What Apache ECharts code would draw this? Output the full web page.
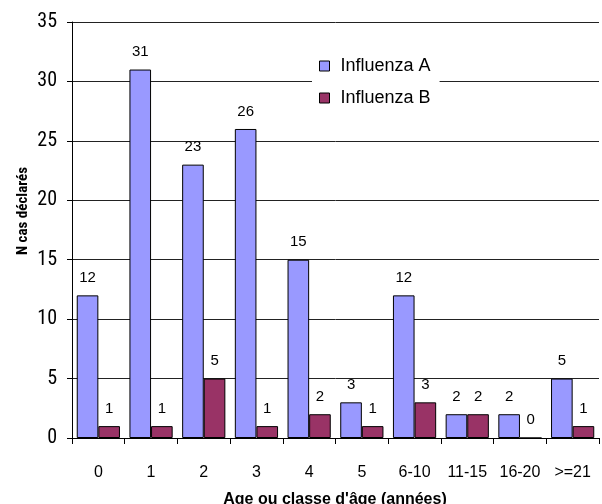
<!DOCTYPE html>
<html><head><meta charset="utf-8">
<script src="https://cdn.jsdelivr.net/npm/echarts@6/dist/echarts.min.js"></script>
<style>html,body{margin:0;padding:0;background:#fff}#c{width:602px;height:504px}</style>
</head><body><div id="c"></div>
<script>
const categories = ['0','1','2','3','4','5','6-10','11-15','16-20','>=21'];
const influenzaA = [12,31,23,26,15,3,12,2,2,5];
const influenzaB = [1,1,5,1,2,1,3,2,0,1];
const yTicks = {min:0, max:35, interval:5};
const xTitle = "Age ou classe d'âge (années)";
const yTitle = 'N cas déclarés';
const font = '"Liberation Sans", Arial, sans-serif';
const narrow = '"Roboto Condensed", "Liberation Sans", sans-serif';
const chart = echarts.init(document.getElementById('c'), null, {renderer:'canvas'});
const lbl = {show:true, position:'top', distance:10, color:'#000', fontSize:15, fontFamily:font};
chart.setOption({
  animation:false,
  backgroundColor:'#fff',
  grid:{left:72, right:3, top:22, bottom:66, containLabel:false},
  legend:{
    orient:'vertical', left:312, top:52, itemWidth:10, itemHeight:10, itemGap:14,
    backgroundColor:'#fff', padding:[5,9,5,7],
    textStyle:{fontSize:18, fontFamily:font, color:'#000', padding:[0,0,0,6]},
    data:[{name:'Influenza A', icon:'rect', itemStyle:{borderColor:'#000', borderWidth:1}},
          {name:'Influenza B', icon:'rect', itemStyle:{borderColor:'#000', borderWidth:1}}]
  },
  graphic:[
    {type:'text', x:335, y:500, style:{text:xTitle, fontSize:16, fontWeight:'bold', fontFamily:font, fill:'#000', textAlign:'center', textVerticalAlign:'middle'}},
    {type:'text', x:23, y:211, rotation:Math.PI/2, style:{text:yTitle, fontSize:15, fontWeight:'bold', fontFamily:narrow, fill:'#000', textAlign:'center', textVerticalAlign:'middle'}}
  ],
  xAxis:{
    type:'category', data:categories,
    axisLine:{lineStyle:{color:'#000', width:1}},
    axisTick:{show:true, length:6, lineStyle:{color:'#000'}},
    axisLabel:{interval:0, fontSize:16, fontFamily:font, color:'#000', margin:27},
    splitLine:{show:false}
  },
  yAxis:{
    type:'value', min:yTicks.min, max:yTicks.max, interval:yTicks.interval,
    axisLine:{show:true, lineStyle:{color:'#000', width:1}},
    axisTick:{show:true, length:5, lineStyle:{color:'#000'}},
    axisLabel:{fontSize:20, fontFamily:narrow, color:'#000', margin:15},
    splitLine:{show:true, lineStyle:{color:'#222', width:1}}
  },
  series:[
    {name:'Influenza A', type:'bar', data:influenzaA, barGap:'0%', barCategoryGap:'18%',
     itemStyle:{color:'#9999FF', borderColor:'#000', borderWidth:1}, label:lbl},
    {name:'Influenza B', type:'bar', data:influenzaB, barGap:'0%', barCategoryGap:'18%',
     itemStyle:{color:'#993366', borderColor:'#000', borderWidth:1}, label:lbl}
  ]
});
</script></body></html>
